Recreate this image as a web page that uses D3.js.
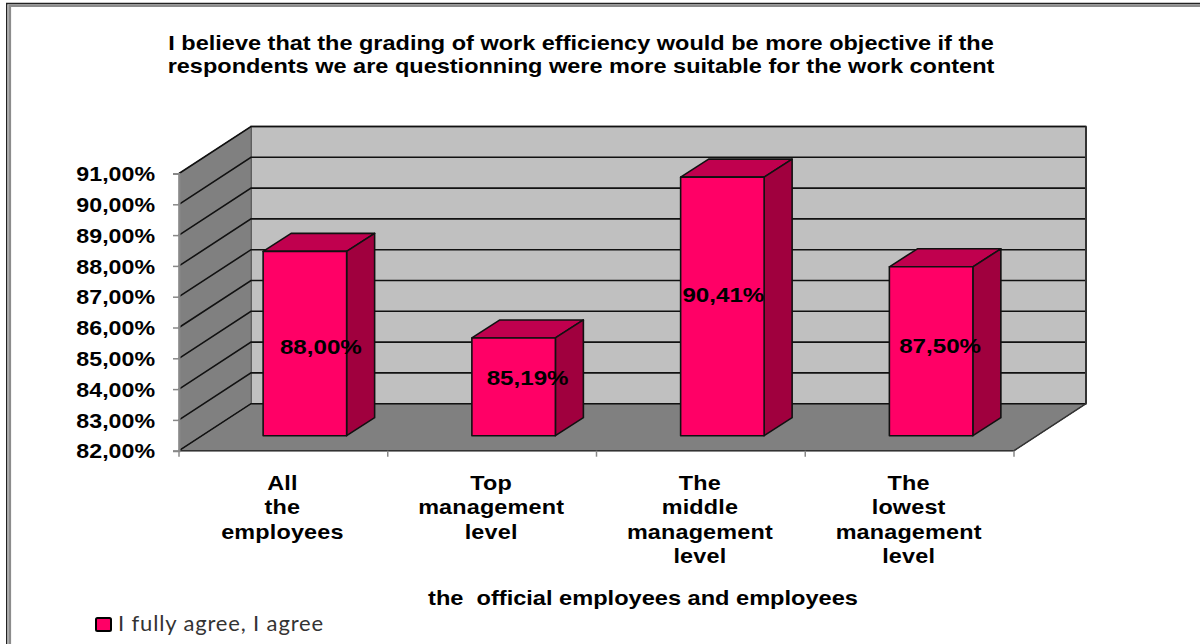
<!DOCTYPE html>
<html><head><meta charset="utf-8">
<script src="https://cdn.jsdelivr.net/npm/d3@7"></script>
<style>
html,body{margin:0;padding:0;background:#fff}
svg{display:block}
text{font-family:"Liberation Sans",Arial,sans-serif;fill:#000}
</style></head><body>
<svg id="c" width="1200" height="644"></svg>
<script>
const categories=[["All","the","employees"],["Top","management","level"],["The","middle","management","level"],["The","lowest","management","level"]];
const values=[88.00,85.19,90.41,87.50];
const valueLabels=["88,00%","85,19%","90,41%","87,50%"];
const yTicks=[82,83,84,85,86,87,88,89,90,91];
const titleLines=["I believe that the grading of work efficiency would be more objective if the","respondents we are questionning were more suitable for the work content"];
const xTitle="the  official employees and employees";
const legendLabel="I fully agree, I agree";

const svg=d3.select("#c");
const x=d3.scaleBand().domain(d3.range(categories.length)).range([179,1014]).paddingInner(0.6).paddingOuter(0.3);
const y=d3.scaleLinear().domain([82,91]).range([450.7,173.5]);
const dx=72,dy=-47;           // wall depth
const gx=21.5,gy=-15;         // bar front inset
const bx=28,by=-18;           // bar depth
const x0=179,x1=1014,yB=y(82),yT=y(91);

// frame
const frameG=svg.append("g").attr("fill","none");
frameG.append("path").attr("d","M6.7,644V3.5H1200").attr("stroke","#222").attr("stroke-width",1.4);
frameG.append("path").attr("d","M9.7,644V5.7H1200").attr("stroke","#8c8c8c").attr("stroke-width",2.8);

const P=pts=>"M"+pts.map(p=>p.join(",")).join("L")+"Z";
const wall="#c0c0c0",side="#808080",ink="#111";
svg.append("path").attr("d",P([[x0+dx,yT+dy],[x1+dx,yT+dy],[x1+dx,yB+dy],[x0+dx,yB+dy]])).attr("fill",wall).attr("stroke","#333").attr("stroke-width",1.5);
svg.append("path").attr("d",P([[x0,yT],[x0+dx,yT+dy],[x0+dx,yB+dy],[x0,yB]])).attr("fill",side).attr("stroke","#666").attr("stroke-width",1);
svg.append("path").attr("d",P([[x0,yB],[x0+dx,yB+dy],[x1+dx,yB+dy],[x1,yB]])).attr("fill",side).attr("stroke","#555").attr("stroke-width",1);
svg.append("g").selectAll("path").data(yTicks).join("path")
 .attr("d",d=>`M${x0},${y(d)}L${x0+dx},${y(d)+dy}H${x1+dx}`)
 .attr("fill","none").attr("stroke",ink).attr("stroke-width",1.6);
svg.append("path").attr("d",`M${x0},${yB}H${x1}L${x1+dx},${yB+dy}`).attr("fill","none").attr("stroke","#333").attr("stroke-width",1.5);
svg.append("path").attr("d",`M${x1+dx},${yT+dy}V${yB+dy}`).attr("stroke","#333").attr("stroke-width",2);

// axes
const yAxis=svg.append("g").attr("transform",`translate(${x0},0)`)
 .call(d3.axisLeft(y).tickValues(yTicks).tickSize(6).tickFormat(d=>d3.format(".2f")(d).replace(".",",")+"%"));
yAxis.select(".domain").attr("stroke","#888").attr("stroke-width",2);
yAxis.selectAll("line").attr("stroke","#888").attr("stroke-width",1.5);
yAxis.selectAll("text").attr("x",0).attr("dy","0.36em")
 .attr("transform","translate(-24,0) scale(1.16,1)")
 .attr("font-size",20).attr("font-weight","bold").style("font-family",'"Liberation Sans",Arial,sans-serif');

svg.append("g").selectAll("line").data(d3.range(categories.length+1)).join("line")
 .attr("x1",i=>x0+i*x.step()).attr("x2",i=>x0+i*x.step()).attr("y1",yB).attr("y2",yB+6)
 .attr("stroke","#888").attr("stroke-width",1.5);

// bars
const bars=svg.append("g").selectAll("g").data(values).join("g");
const fx=i=>x(i)+gx, fw=x.bandwidth(), topY=v=>y(v)+gy+0.5, base=yB+gy;
bars.append("path").attr("d",(v,i)=>P([[fx(i),topY(v)],[fx(i)+bx,topY(v)+by],[fx(i)+fw+bx,topY(v)+by],[fx(i)+fw,topY(v)]])).attr("fill","#c0004e");
bars.append("path").attr("d",(v,i)=>P([[fx(i)+fw,topY(v)],[fx(i)+fw+bx,topY(v)+by],[fx(i)+fw+bx,base+by],[fx(i)+fw,base]])).attr("fill","#a0003e");
bars.append("rect").attr("x",(v,i)=>fx(i)).attr("y",v=>topY(v)).attr("width",fw).attr("height",v=>base-topY(v)).attr("fill","#ff0066");
bars.selectAll("path,rect").attr("stroke","#111").attr("stroke-width",1.6).attr("stroke-linejoin","round");
// labels sit off the bar centre in the reference, each nudged by hand
const labelNudgeX=[16,14,1,9],labelNudgeY=[10.5,-1.5,-4,1.5];
bars.append("text").text((v,i)=>valueLabels[i])
 .attr("x",(v,i)=>fx(i)+fw/2+labelNudgeX[i]).attr("y",(v,i)=>(topY(v)+base)/2+labelNudgeY[i])
 .attr("text-anchor","middle").attr("font-size",20).attr("font-weight","bold")
 .attr("textLength",82).attr("lengthAdjust","spacingAndGlyphs");

// category labels
const cat=svg.append("g").selectAll("text").data(categories).join("text")
 .attr("transform",(d,i)=>`translate(${x(i)+x.bandwidth()/2-1},0) scale(1.2,1)`)
 .attr("text-anchor","middle").attr("font-size",19.5).attr("font-weight","bold").attr("letter-spacing","0.15px");
cat.each(function(lines){
 d3.select(this).selectAll("tspan").data(lines).join("tspan")
  .attr("x",0).attr("y",(d,k)=>490+k*24.3).text(d=>d);
});

// titles
svg.append("g").selectAll("text").data(titleLines).join("text")
 .attr("transform","translate(581,0) scale(1.12,1)")
 .attr("x",0).attr("y",(d,i)=>50+i*23).attr("text-anchor","middle").attr("font-size",21).attr("font-weight","bold").text(d=>d);
svg.append("text").attr("transform","translate(643,605) scale(1.18,1)").attr("text-anchor","middle").attr("font-size",20).attr("font-weight","bold").style("white-space","pre").text(xTitle);

// legend
svg.append("rect").attr("x",96).attr("y",618).attr("width",15).attr("height",13).attr("rx",1.5).attr("fill","#ff0066").attr("stroke","#000").attr("stroke-width",2);
svg.append("text").attr("x",118).attr("y",631).attr("font-size",22).attr("letter-spacing","0.85px").style("font-family","Lato,sans-serif").style("fill","#333").text(legendLabel);
</script></body></html>
